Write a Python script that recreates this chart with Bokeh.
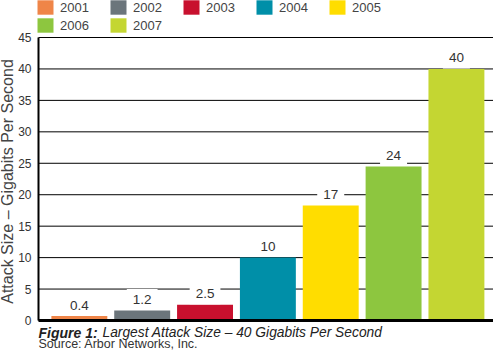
import math
from bokeh.plotting import figure
from bokeh.models import (ColumnDataSource, Range1d, Label, Legend,
                          LegendItem, FixedTicker)
from bokeh.core.properties import value
from bokeh.embed import file_html
from bokeh.resources import INLINE

# ---- data ----
years = ["2001", "2002", "2003", "2004", "2005", "2006", "2007"]
bar_heights = [0.7, 1.6, 2.5, 10.0, 18.3, 24.5, 40.0]
value_labels = ["0.4", "1.2", "2.5", "10", "17", "24", "40"]
y_ticks = [0, 5, 10, 15, 20, 25, 30, 35, 40, 45]
y_title = "Attack Size \u2013 Gigabits Per Second"
caption_bold = "Figure 1:"
caption_rest = "Largest Attack Size \u2013 40 Gigabits Per Second"
source_note = "Source: Arbor Networks, Inc."

colors = ["#EF8548", "#6B757B", "#C8102E", "#008FA8", "#FFDD00", "#8DC63F", "#C4D632"]
FONT = "Liberation Sans"

# layout geometry (pixels)
W, H = 493, 351
PLOT_LEFT, PLOT_TOP, PLOT_BOTTOM = 38, 37, 320
ppu = (PLOT_BOTTOM - PLOT_TOP) / (y_ticks[-1] - y_ticks[0])
y_lo = y_ticks[0] - (H - PLOT_BOTTOM) / ppu
y_hi = y_ticks[-1] + PLOT_TOP / ppu
x_left, x_right = -0.65, len(years) - 1 + 0.59
upx = (x_right - x_left) / (W - PLOT_LEFT)
x_lo = x_left - PLOT_LEFT * upx

src = ColumnDataSource(dict(
    x=list(range(len(years))), top=bar_heights, year=years,
    label=value_labels, color=colors))

p = figure(width=W, height=H, output_backend="svg", toolbar_location=None,
           x_range=Range1d(x_lo, x_right),
           y_range=Range1d(y_lo, y_hi),
           min_border_left=0, min_border_right=0,
           min_border_top=0, min_border_bottom=0)
p.outline_line_color = None
p.background_fill_color = "white"
p.border_fill_color = "white"
p.xaxis.visible = False
p.xgrid.visible = False
p.ygrid.visible = False

# horizontal grid lines, limited to the plot area
grid = ColumnDataSource(dict(y=y_ticks))
p.segment(x0=x_left, x1=x_right, y0="y", y1="y", source=grid,
          line_color="black", line_width=1, level="underlay")

r = p.vbar(x="x", top="top", bottom=0, width=0.89, fill_color="color",
           line_color=None, source=src)

# baseline
p.segment(x0=[x_left], x1=[x_right], y0=[y_ticks[0]], y1=[y_ticks[0]],
          line_color="black", line_width=3)

# y axis, pinned at the plot's left edge
p.yaxis.fixed_location = x_left
p.yaxis.ticker = FixedTicker(ticks=y_ticks)
p.yaxis.bounds = (y_ticks[0], y_ticks[-1])
p.yaxis.major_tick_line_color = None
p.yaxis.minor_tick_line_color = None
p.yaxis.major_tick_out = 0
p.yaxis.major_tick_in = 0
p.yaxis.minor_tick_out = 0
p.yaxis.axis_line_color = "black"
p.yaxis.axis_line_width = 2
p.yaxis.major_label_standoff = 7
p.yaxis.major_label_text_font = FONT
p.yaxis.major_label_text_font_size = "12px"
p.yaxis.major_label_text_color = "#333333"

# y title
p.add_layout(Label(x=7, y=170, x_units="screen", y_units="screen",
                   text=y_title, angle=math.pi / 2, text_align="center",
                   text_baseline="alphabetic", text_font=FONT,
                   text_font_size="16px", text_color="#444444"))

# value labels
p.text(x="x", y="top", text="label", source=src,
       text_align="center", text_baseline="middle", y_offset=-11,
       text_font=value(FONT), text_font_size="13.5px", text_color="#333333",
       background_fill_color="white", padding=6)

# caption
p.add_layout(Label(x=PLOT_LEFT, y=19, x_units="screen", y_units="screen",
                   text=caption_bold, text_font=FONT, text_font_style="bold italic",
                   text_font_size="14px", text_color="#222222",
                   text_baseline="alphabetic"))
p.add_layout(Label(x=PLOT_LEFT + 64, y=19, x_units="screen", y_units="screen",
                   text=caption_rest, text_font=FONT, text_font_style="italic",
                   text_font_size="13.8px", text_color="#222222",
                   text_baseline="alphabetic"))
p.add_layout(Label(x=PLOT_LEFT, y=8, x_units="screen", y_units="screen",
                   text=source_note, text_font=FONT,
                   text_font_size="12.5px", text_color="#333333",
                   text_baseline="alphabetic"))

# legend
items = [LegendItem(label=years[i], renderers=[r], index=i) for i in range(len(years))]
legend = Legend(items=items, orientation="horizontal", ncols=5,
                location=(PLOT_LEFT - 3, 317), margin=0, padding=0,
                border_line_color=None, background_fill_alpha=0,
                glyph_width=20, glyph_height=18, label_standoff=5,
                label_width=48, label_height=15, spacing=0,
                label_text_font=FONT, label_text_font_size="13px",
                label_text_color="#444444")
p.add_layout(legend)

open("out.html", "w").write(file_html(p, INLINE))
